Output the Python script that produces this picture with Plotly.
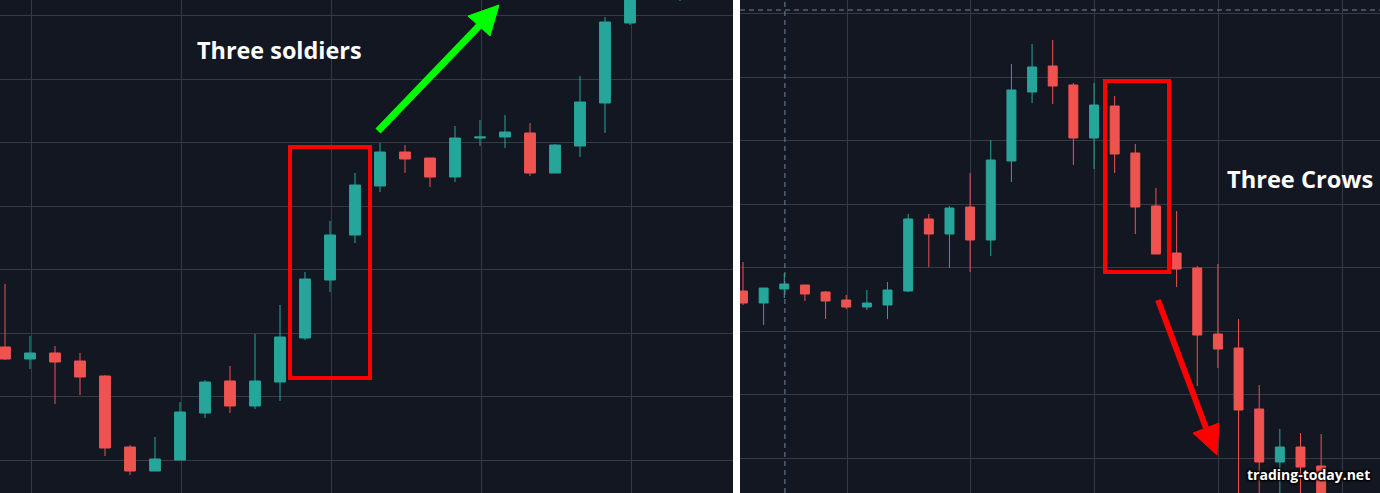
import plotly.graph_objects as go
from plotly.subplots import make_subplots

# ---------------- data (left panel: "Three soldiers") ----------------
left_idx = list(range(28))
left_open  = [153, 141, 147, 139, 124, 53, 29, 40, 87, 119, 94, 118, 162, 220,
              265, 314, 348, 342, 323, 362, 363, 367, 327, 354, 397, 477, 520, 515]
left_high  = [216, 164, 154, 147, 125, 55, 63, 98, 120, 134, 166, 195, 228, 279,
              327, 357, 355, 342, 374, 380, 385, 377, 356, 424, 483, 525, 548, 540]
left_low   = [140, 131, 96, 105, 44, 25, 29, 40, 82, 87, 91, 99, 160, 208,
              257, 308, 327, 313, 318, 354, 352, 324, 327, 343, 367, 475, 512, 499]
left_close = [141, 147, 138, 123, 52, 29, 41, 88, 118, 94, 119, 163, 221, 265,
              315, 348, 341, 323, 362, 363, 368, 327, 355, 398, 478, 515, 540, 530]

# ---------------- data (right panel: "Three Crows") ----------------
right_idx = list(range(29))
right_open  = [209, 197, 211, 215, 208, 200, 193, 195, 209, 281, 266, 293, 260, 339,
               408, 434, 415, 362, 394, 347, 294, 247, 232, 166, 152, 91, 38, 53, 34]
right_high  = [238, 212, 227, 215, 209, 205, 210, 218, 286, 286, 294, 327, 360, 436,
               456, 460, 417, 417, 404, 356, 312, 289, 234, 236, 181, 115, 71, 67, 66]
right_low   = [195, 175, 202, 199, 181, 191, 190, 181, 208, 233, 232, 228, 244, 318,
               397, 396, 335, 331, 327, 266, 246, 213, 114, 132, -5, -5, -5, -5, -15]
right_close = [197, 212, 216, 206, 199, 193, 197, 210, 281, 266, 292, 260, 340, 410,
               433, 414, 362, 395, 346, 293, 246, 231, 165, 151, 90, 38, 53, 33, -5]

UP = "#26A69A"
DOWN = "#EF5350"
BG = "#131722"
GRID = "#363A45"

W, H = 1380, 493
def X(px):
    return px / W
def Y(py):
    return 1 - py / H

fig = make_subplots(rows=1, cols=2, horizontal_spacing=0)

def candle(x, o, h, l, c):
    return go.Candlestick(
        x=x, open=o, high=h, low=l, close=c,
        increasing=dict(line=dict(color=UP, width=1), fillcolor=UP),
        decreasing=dict(line=dict(color=DOWN, width=1), fillcolor=DOWN),
        whiskerwidth=0, showlegend=False, hoverinfo="skip",
    )

fig.add_trace(candle(left_idx, left_open, left_high, left_low, left_close), row=1, col=1)
fig.add_trace(candle(right_idx, right_open, right_high, right_low, right_close), row=1, col=2)

axis_common = dict(showgrid=True, gridcolor=GRID, gridwidth=1, zeroline=False,
                   showticklabels=False, ticks="", showline=False, fixedrange=True)

fig.update_xaxes(axis_common)
fig.update_yaxes(axis_common)
fig.update_layout(
    xaxis=dict(domain=[0, X(733)], range=[-0.2, 29.12], tick0=1.04, dtick=6,
               rangeslider=dict(visible=False)),
    xaxis2=dict(domain=[X(740), 1], range=[-0.145, 30.85], tick0=5.04, dtick=6,
                rangeslider=dict(visible=False)),
    yaxis=dict(range=[7, 500], tick0=40, dtick=63.43),
    yaxis2=dict(range=[7, 500], tick0=42, dtick=63.43),
)

shapes = []
# crosshair dashed lines (right panel)
shapes.append(dict(type="line", xref="x2", yref="paper", x0=2.03, x1=2.03, y0=0, y1=1,
                   line=dict(color="#758696", width=1, dash="5px,4px")))
shapes.append(dict(type="line", xref="x2 domain", yref="y2", x0=0, x1=1, y0=490, y1=490,
                   line=dict(color="#758696", width=1, dash="5px,4px")))
# red rectangles
shapes.append(dict(type="rect", xref="paper", yref="paper",
                   x0=X(290), x1=X(370), y0=Y(378), y1=Y(147),
                   line=dict(color="#FF0000", width=4)))
shapes.append(dict(type="rect", xref="paper", yref="paper",
                   x0=X(1105), x1=X(1169), y0=Y(272), y1=Y(81),
                   line=dict(color="#FF0000", width=4)))

def arrow(tail, base1, base2, tip, color, width):
    mid = ((base1[0] + base2[0]) / 2, (base1[1] + base2[1]) / 2)
    shapes.append(dict(type="line", xref="paper", yref="paper",
                       x0=X(tail[0]), y0=Y(tail[1]), x1=X(mid[0]), y1=Y(mid[1]),
                       line=dict(color=color, width=width)))
    path = "M {},{} L {},{} L {},{} Z".format(X(base1[0]), Y(base1[1]), X(tip[0]), Y(tip[1]),
                                               X(base2[0]), Y(base2[1]))
    shapes.append(dict(type="path", xref="paper", yref="paper", path=path,
                       fillcolor=color, line=dict(color=color, width=1)))

arrow((378, 131), (468, 16), (490, 36), (499, 5), "#00FF00", 7)
arrow((1158, 300), (1193, 433), (1219, 423), (1217, 455), "#FF0000", 6)

fig.update_layout(shapes=shapes)

annotations = [
    dict(text="<b>Three soldiers</b>", x=X(279), y=Y(50), xref="paper", yref="paper",
         showarrow=False, xanchor="center", yanchor="middle",
         font=dict(family="Open Sans", size=23.4, color="#FFFFFF")),
    dict(text="<b>Three Crows</b>", x=X(1299.5), y=Y(179), xref="paper", yref="paper",
         showarrow=False, xanchor="center", yanchor="middle",
         font=dict(family="Open Sans", size=23.6, color="#FFFFFF")),
    dict(text="<b>trading-today.net</b>", x=X(1308), y=Y(474), xref="paper", yref="paper",
         showarrow=False, xanchor="center", yanchor="middle",
         font=dict(family="Open Sans", size=14, color="#FFFFFF",
                   shadow="1px 1px 2px #000, -1px -1px 2px #000, 1px -1px 2px #000, -1px 1px 2px #000")),
]
fig.update_layout(annotations=annotations)

fig.update_layout(
    width=W, height=H,
    margin=dict(l=0, r=0, t=0, b=0),
    paper_bgcolor="#FFFFFF",
    plot_bgcolor=BG,
    boxgap=0.38,
    hovermode=False,
    showlegend=False,
)

fig.write_html("out.html", config={"displayModeBar": False},
               post_script="document.body.style.margin='0';document.body.style.padding='0';")
